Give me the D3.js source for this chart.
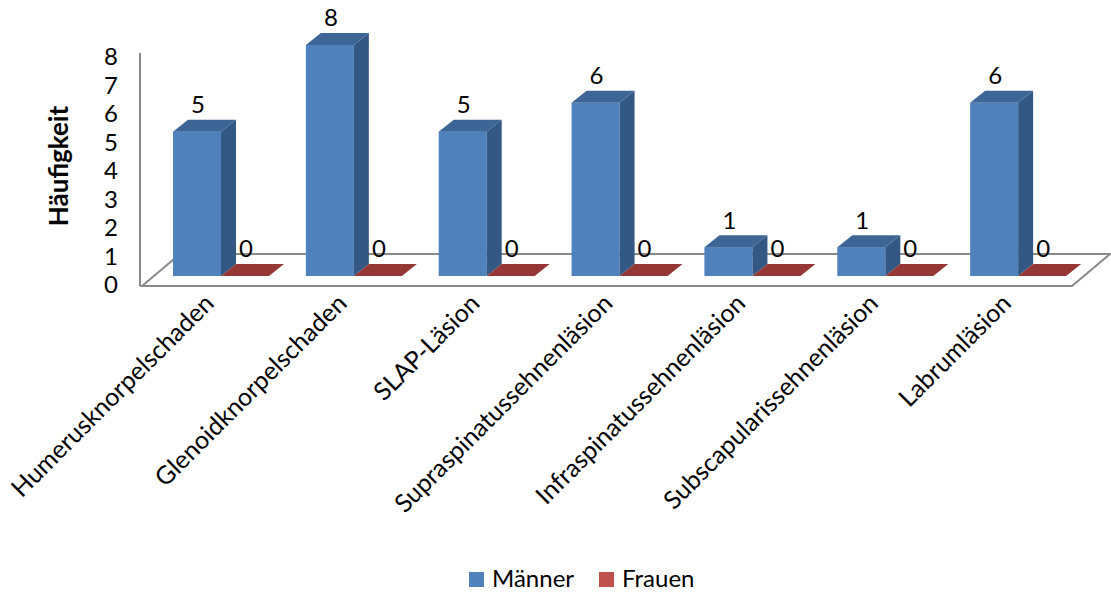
<!DOCTYPE html>
<html>
<head>
<meta charset="utf-8">
<script src="https://cdn.jsdelivr.net/npm/d3@7"></script>
<style>
  html, body { margin: 0; padding: 0; background: #fff; }
  svg { display: block; font-family: Lato, "Open Sans", sans-serif; }
</style>
</head>
<body>
<svg id="chart" width="1111" height="592"></svg>
<script>
const categories = [
  "Humerusknorpelschaden",
  "Glenoidknorpelschaden",
  "SLAP-Läsion",
  "Supraspinatussehnenläsion",
  "Infraspinatussehnenläsion",
  "Subscapularissehnenläsion",
  "Labrumläsion"
];
const maenner = [5, 8, 5, 6, 1, 1, 6];
const frauen = [0, 0, 0, 0, 0, 0, 0];
const yTicks = [0, 1, 2, 3, 4, 5, 6, 7, 8];
const seriesNames = ["Männer", "Frauen"];

const colors = {
  "Männer": { front: "#4F81BD", top: "#3D6697", side: "#335883" },
  "Frauen": { front: "#C0504D", top: "#953735", side: "#7A2D2B" }
};

const svg = d3.select("#chart");

// floor geometry (oblique projection)
const floorY = 286, floorX0 = 142, floorX1 = 1072;
const floorDX = 38, floorDY = -32;
const barDX = 15, barDY = -12;

const x = d3.scaleBand().domain(categories).range([floorX0, floorX1]);
const xs = d3.scaleBand().domain(seriesNames).range([31, 127]);
const yBar = d3.scaleLinear().domain([0, 8]).range([276, 45]);
const yAxis = d3.scaleLinear().domain([0, 8]).range([285, 57]);

const grey = "#8a8a8a";

// floor
svg.append("path")
  .attr("d", d3.line()([
    [floorX0, floorY], [floorX1, floorY],
    [floorX1 + floorDX, floorY + floorDY], [floorX0 + floorDX, floorY + floorDY]
  ]) + "Z")
  .attr("fill", "#fff")
  .attr("stroke", grey)
  .attr("stroke-width", 2);

// vertical axis line
svg.append("line")
  .attr("x1", 140).attr("x2", 140)
  .attr("y1", yAxis(0) + 1).attr("y2", yAxis(8) - 4)
  .attr("stroke", grey).attr("stroke-width", 2);

// y tick labels
svg.append("g").selectAll("text").data(yTicks).join("text")
  .attr("x", 118)
  .attr("y", d => yAxis(d))
  .attr("dy", "0.35em")
  .attr("text-anchor", "end")
  .attr("font-size", 24)
  .attr("fill", "#000")
  .text(d => d);

// axis title
svg.append("text")
  .attr("transform", "translate(68,166) rotate(-90)")
  .attr("text-anchor", "middle")
  .attr("font-size", 26)
  .attr("font-weight", "bold")
  .text("Häufigkeit");

// bars as 3D boxes
const rows = [];
categories.forEach((c, i) => {
  rows.push({ cat: c, series: "Männer", value: maenner[i] });
  rows.push({ cat: c, series: "Frauen", value: frauen[i] });
});

const bars = svg.append("g").selectAll("g").data(rows).join("g");

bars.each(function (d) {
  const g = d3.select(this);
  const x0 = x(d.cat) + xs(d.series);
  const w = xs.bandwidth();
  const yb = yBar(0);
  const yt = yBar(d.value);
  const c = colors[d.series];
  if (d.value > 0) {
    // front face
    g.append("rect")
      .attr("x", x0).attr("y", yt)
      .attr("width", w).attr("height", yb - yt)
      .attr("fill", c.front);
    // side face
    g.append("path")
      .attr("d", d3.line()([
        [x0 + w, yb], [x0 + w + barDX, yb + barDY],
        [x0 + w + barDX, yt + barDY], [x0 + w, yt]
      ]) + "Z")
      .attr("fill", c.side);
  }
  // top face
  g.append("path")
    .attr("d", d3.line()([
      [x0, yt], [x0 + w, yt],
      [x0 + w + barDX, yt + barDY], [x0 + barDX, yt + barDY]
    ]) + "Z")
    .attr("fill", c.top);
});

// value labels
svg.append("g").selectAll("text").data(rows).join("text")
  .attr("x", d => x(d.cat) + xs(d.series) + xs.bandwidth() / 2 + 1)
  .attr("y", d => yBar(d.value) + barDY - 15)
  .attr("dy", "0.35em")
  .attr("text-anchor", "middle")
  .attr("font-size", 24)
  .text(d => d.value);

// category labels
svg.append("g").selectAll("text").data(categories).join("text")
  .attr("transform", d => `translate(${x(d) + x.bandwidth() / 2 + 7},${305}) rotate(-45)`)
  .attr("text-anchor", "end")
  .attr("font-size", 25)
  .text(d => d);

// legend
const legend = svg.append("g").selectAll("g").data(seriesNames).join("g")
  .attr("transform", (d, i) => `translate(${469 + i * 130},572)`);
legend.append("rect")
  .attr("width", 15).attr("height", 15)
  .attr("fill", d => colors[d].front);
legend.append("text")
  .attr("x", 23).attr("y", 15)
  .attr("font-size", 24)
  .text(d => d);
</script>
</body>
</html>
